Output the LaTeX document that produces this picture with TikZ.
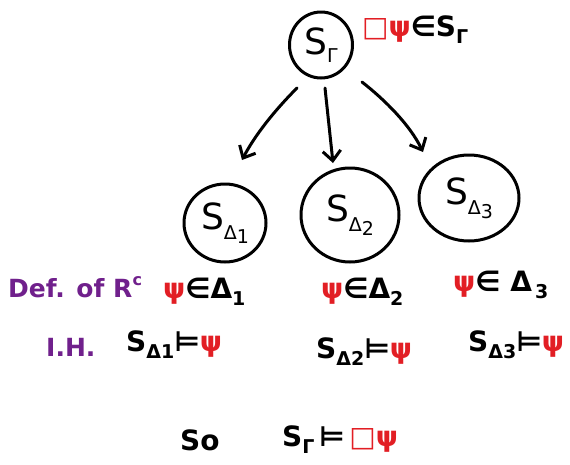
\documentclass[tikz,border=0pt]{standalone}
\usepackage{fontspec}
\setmainfont{DejaVu Sans}
\usetikzlibrary{arrows.meta,shapes.geometric}
\definecolor{inkred}{RGB}{226,30,36}
\definecolor{inkpurple}{RGB}{112,32,140}
\tikzset{
  pen/.style={line width=3pt, line cap=round, line join=round, black},
  world/.style={pen, draw, ellipse, inner sep=0pt},
  arr/.style={pen, -{Straight Barb[length=10pt,width=18pt,line width=3pt]}},
  txt/.style={font=\fontsize{28}{32}\selectfont\bfseries, inner sep=0pt, anchor=west},
  big/.style={font=\fontsize{36}{40}\selectfont},
  note/.style={txt, text=inkpurple, font=\fontsize{25}{28}\selectfont\bfseries}
}
\newcommand{\rpsi}{\textcolor{inkred}{ψ}}
\newcommand{\rbox}{\textcolor{inkred}{□}}
\newcommand{\lo}[2][-7pt]{\raisebox{#1}{\fontsize{19}{19}\selectfont #2}}
\begin{document}
\begin{tikzpicture}[x=1pt,y=-1pt]
\useasboundingbox (0,0) rectangle (570,464);
% the root world and its successors
\node[world, minimum width=63pt, minimum height=66pt, big] (g) at (321,45) {S\lo[-8pt]{Γ}};
\node[world, minimum width=82pt, minimum height=78pt, big] (d1) at (225,223) {S\lo[-10pt]{Δ\raisebox{-4pt}{1}}};
\node[world, minimum width=98pt, minimum height=94pt, big] (d2) at (350,215) {S\lo[-10pt]{Δ\raisebox{-4pt}{2}}};
\node[world, minimum width=100pt, minimum height=86pt, big] (d3) at (469,198) {S\lo[-10pt]{Δ\raisebox{-4pt}{3}}};
\node[txt] (lab) at (362,30) {\rbox\rpsi∈S\lo{Γ}};
% accessibility arrows
\coordinate (a1) at (242,160);
\coordinate (a2) at (333,163);
\coordinate (a3) at (423,152);
\draw[arr] (297,88) .. controls (275,110) and (255,135) .. (a1);
\draw[arr] (325,88) -- (a2);
\draw[arr] (362,82) .. controls (385,100) and (410,125) .. (a3);
% reasoning below the worlds
\node[note] (defr) at (8,287) {Def. of R\raisebox{12pt}{\fontsize{16}{16}\selectfont c}};
\node[note] (ih) at (46,347) {I.H.};
\node[txt] (m1) at (163,292) {\rpsi∈Δ\lo{1}};
\node[txt] (m2) at (321,292) {\rpsi∈Δ\lo{2}};
\node[txt] (m3) at (453,285) {\rpsi∈ Δ\lo{\,3}};
\node[txt] (e1) at (126,345) {S\lo{Δ1}⊨\rpsi};
\node[txt] (e2) at (316,352) {S\lo{Δ2}⊨\rpsi};
\node[txt] (e3) at (468,345) {S\lo{Δ3}⊨\rpsi};
\node[txt] (so) at (180,440) {So};
\node[txt] (fin) at (282,440) {S\lo{Γ}\,⊨\,\rbox\rpsi};
\end{tikzpicture}
\end{document}
